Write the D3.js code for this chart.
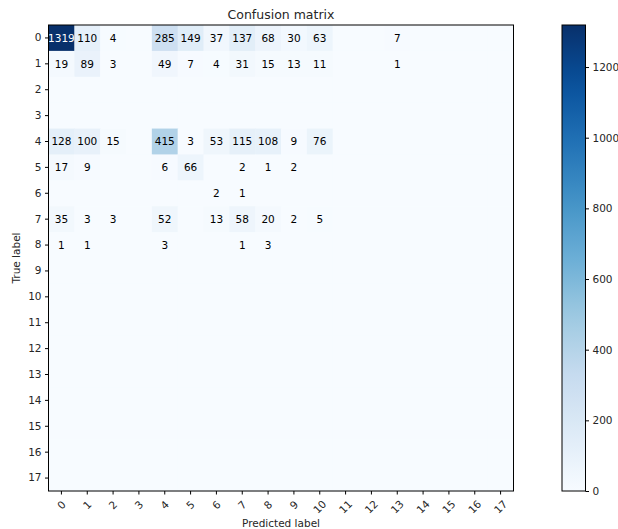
<!DOCTYPE html>
<html><head><meta charset="utf-8">
<script src="https://cdn.jsdelivr.net/npm/d3@7"></script>
<style>body{margin:0;background:#fff}svg{display:block}text{font-family:"DejaVu Sans",sans-serif;fill:#262626}</style>
</head><body><svg id="c" width="618" height="529"></svg>
<script>
const labels = d3.range(18).map(String);
const row0 = [1319,110,4,0,285,149,37,137,68,30,63,0,0,7,0,0,0,0];
const row1 = [19,89,3,0,49,7,4,31,15,13,11,0,0,1,0,0,0,0];
const row4 = [128,100,15,0,415,3,53,115,108,9,76,0,0,0,0,0,0,0];
const row5 = [17,9,0,0,6,66,0,2,1,2,0,0,0,0,0,0,0,0];
const row6 = [0,0,0,0,0,0,2,1,0,0,0,0,0,0,0,0,0,0];
const row7 = [35,3,3,0,52,0,13,58,20,2,5,0,0,0,0,0,0,0];
const row8 = [1,1,0,0,3,0,0,1,3,0,0,0,0,0,0,0,0,0];
const zeroRow = d3.range(18).map(() => 0);
const matrix = [row0,row1,zeroRow,zeroRow,row4,row5,row6,row7,row8,
  zeroRow,zeroRow,zeroRow,zeroRow,zeroRow,zeroRow,zeroRow,zeroRow,zeroRow];
const cbTicks = [0,200,400,600,800,1000,1200];
const blues = ["#f7fbff","#deebf7","#c6dbef","#9ecae1","#6baed6","#4292c6","#2171b5","#08519c","#08306b"];

const svg = d3.select("#c");
const L = 48.5, R = 513.5, T = 25, B = 491;
const FS = 10.5;
const vmax = d3.max(matrix.flat());
const x = d3.scaleBand().domain(labels).range([L, R]);
const y = d3.scaleBand().domain(labels).range([T, B]);
const color = d3.scaleLinear().domain(d3.range(9).map(i => i * vmax / 8)).range(blues).interpolate(d3.interpolateRgb);

const cells = [];
matrix.forEach((r, i) => r.forEach((v, j) => cells.push({i, j, v})));
svg.append("g").selectAll("rect").data(cells).join("rect")
  .attr("x", d => x(labels[d.j])).attr("y", d => y(labels[d.i]))
  .attr("width", x.bandwidth() + 0.5).attr("height", y.bandwidth() + 0.5)
  .attr("fill", d => color(d.v));
svg.append("g").selectAll("text").data(cells.filter(d => d.v > 0)).join("text")
  .attr("x", d => x(labels[d.j]) + x.bandwidth() / 2)
  .attr("y", d => y(labels[d.i]) + y.bandwidth() / 2)
  .attr("dy", "0.35em").attr("text-anchor", "middle").attr("font-size", FS)
  .style("fill", d => d.v > vmax / 2 ? "#fff" : "#000")
  .text(d => d.v);
svg.append("rect").attr("x", L).attr("y", T).attr("width", R - L).attr("height", B - T)
  .attr("fill", "none").attr("stroke", "#000").attr("stroke-width", 1);

const xAxis = svg.append("g").attr("transform", `translate(0,${B})`)
  .call(d3.axisBottom(x).tickSizeOuter(0).tickSizeInner(3.5).tickPadding(3));
xAxis.select(".domain").remove();
xAxis.selectAll("text").attr("font-size", FS).attr("text-anchor", "middle")
  .attr("x", 0).attr("y", 0).attr("dy", "0.35em")
  .attr("transform", d => `translate(0,${d.length > 1 ? 16 : 14}) rotate(-45)`);
const yAxis = svg.append("g").attr("transform", `translate(${L},0)`)
  .call(d3.axisLeft(y).tickSizeOuter(0).tickSizeInner(3.5).tickPadding(3.5));
yAxis.select(".domain").remove();
yAxis.selectAll("text").attr("font-size", FS);

svg.append("text").attr("x", (L + R) / 2).attr("y", 19).attr("text-anchor", "middle")
  .attr("font-size", 12.5).text("Confusion matrix");
svg.append("text").attr("x", (L + R) / 2).attr("y", 527).attr("text-anchor", "middle")
  .attr("font-size", FS).text("Predicted label");
svg.append("text").attr("transform", `translate(20,${(T + B) / 2}) rotate(-90)`)
  .attr("text-anchor", "middle").attr("font-size", FS).text("True label");

// colorbar
const CL = 562, CR = 585.5;
const cy = d3.scaleLinear().domain([0, vmax]).range([B, T]);
const defs = svg.append("defs");
const grad = defs.append("linearGradient").attr("id", "cb").attr("x1", 0).attr("y1", 1).attr("x2", 0).attr("y2", 0);
d3.range(0, 1.0001, 0.05).forEach(t => grad.append("stop").attr("offset", t).attr("stop-color", color(t * vmax)));
svg.append("rect").attr("x", CL).attr("y", T).attr("width", CR - CL).attr("height", B - T)
  .attr("fill", "url(#cb)").attr("stroke", "#000").attr("stroke-width", 1);
const cAxis = svg.append("g").attr("transform", `translate(${CR},0)`)
  .call(d3.axisRight(cy).tickValues(cbTicks).tickFormat(d3.format("d")).tickSizeOuter(0).tickSizeInner(3.5).tickPadding(3.5));
cAxis.select(".domain").remove();
cAxis.selectAll("text").attr("font-size", FS);
</script></body></html>
